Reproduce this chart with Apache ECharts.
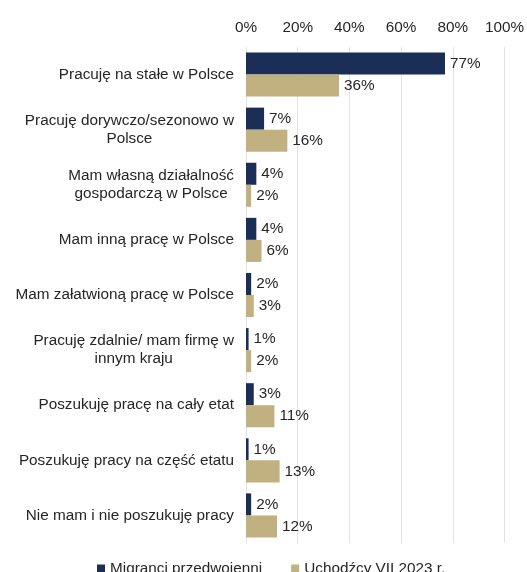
<!DOCTYPE html>
<html><head><meta charset="utf-8">
<script src="https://cdn.jsdelivr.net/npm/echarts@6/dist/echarts.min.js"></script>
<style>html,body{margin:0;padding:0;background:#fff}#c{width:527px;height:572px}</style>
</head><body><div id="c"></div>
<script>
const categories = [
  "Pracuję na stałe w Polsce",
  "Pracuję dorywczo/sezonowo w\nPolsce",
  "Mam własną działalność\ngospodarczą w Polsce",
  "Mam inną pracę w Polsce",
  "Mam załatwioną pracę w Polsce",
  "Pracuję zdalnie/ mam firmę w\ninnym kraju",
  "Poszukuję pracę na cały etat",
  "Poszukuję pracy na część etatu",
  "Nie mam i nie poszukuję pracy"
];
const seriesNames = ["Migranci przedwojenni", "Uchodźcy VII 2023 r."];
const migranci = [77, 7, 4, 4, 2, 1, 3, 1, 2];
const uchodzcy = [36, 16, 2, 6, 3, 2, 11, 13, 12];
const xTicks = [0, 20, 40, 60, 80, 100];

const font = "'Liberation Sans', Arial, sans-serif";
const fs = 15.3;
// measure to make multi-line labels centred within a right-aligned block
const ctx = document.createElement('canvas').getContext('2d');
ctx.font = fs + "px " + font;
const yData = categories.map(c => {
  const w = Math.max(...c.split('\n').map(s => ctx.measureText(s).width));
  return {value: c, textStyle: {align: 'center', padding: [0, w, 0, 0]}};
});

const chart = echarts.init(document.getElementById('c'));
const lbl = {show: true, position: 'right', distance: 5, formatter: '{c}%', color: '#262626', fontSize: fs, fontFamily: font};
chart.setOption({
  animation: false,
  textStyle: {fontFamily: font},
  grid: {left: 246, right: 21, top: 47, bottom: 29, containLabel: false},
  legend: {
    top: 561, left: 97, itemWidth: 8, itemHeight: 8, itemGap: 29,
    icon: 'rect', padding: 0,
    textStyle: {fontSize: fs, color: '#262626', fontFamily: font},
    data: seriesNames
  },
  xAxis: {
    type: 'value', position: 'top', min: xTicks[0], max: xTicks[xTicks.length - 1], interval: 20,
    axisLabel: {formatter: '{value}%', fontSize: fs, color: '#262626', margin: 12, fontFamily: font},
    axisLine: {show: false}, axisTick: {show: false},
    splitLine: {lineStyle: {color: '#e3e3e3', width: 1}}
  },
  yAxis: {
    type: 'category', inverse: true, data: yData,
    axisLine: {show: false}, axisTick: {show: false},
    axisLabel: {fontSize: fs, color: '#262626', margin: 12, lineHeight: 18, fontFamily: font}
  },
  series: [
    {name: seriesNames[0], type: 'bar', data: migranci, barGap: '0%', barCategoryGap: '20%',
     itemStyle: {color: '#1b2f56'}, label: lbl},
    {name: seriesNames[1], type: 'bar', data: uchodzcy, barGap: '0%', barCategoryGap: '20%',
     itemStyle: {color: '#c1b080'}, label: lbl}
  ]
});
</script></body></html>
